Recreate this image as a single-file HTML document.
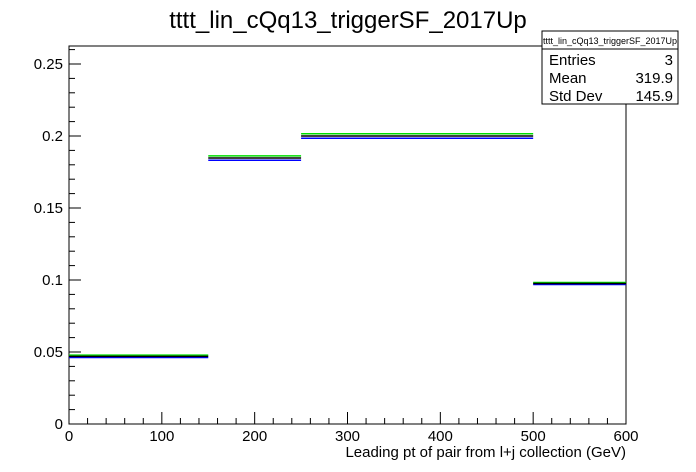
<!DOCTYPE html>
<html><head><meta charset="utf-8"><style>
body{margin:0;background:#fff;}
svg{display:block;font-family:"Liberation Sans",Arial,sans-serif;}
</style></head><body>
<svg id="c" width="696" height="472" viewBox="0 0 696 472">
<rect width="696" height="472" fill="#fff"/>
<text x="348" y="28" text-anchor="middle" font-size="24">tttt_lin_cQq13_triggerSF_2017Up</text>
<rect x="69" y="46" width="557" height="378" fill="none" stroke="#000" stroke-width="1"/>
<g id="axes"></g>
<g id="marks"></g>
<text x="626" y="457" text-anchor="end" font-size="15">Leading pt of pair from l+j collection (GeV)</text>
<g>
<rect x="542" y="31" width="136" height="73" fill="#fff" stroke="#000"/>
<line x1="542" y1="49" x2="678" y2="49" stroke="#000"/>
<text x="610" y="44" text-anchor="middle" font-size="9">tttt_lin_cQq13_triggerSF_2017Up</text>
<text x="549" y="65" font-size="15">Entries</text><text x="673" y="65" text-anchor="end" font-size="15">3</text>
<text x="549" y="83" font-size="15">Mean</text><text x="673" y="83" text-anchor="end" font-size="15">319.9</text>
<text x="549" y="101" font-size="15">Std Dev</text><text x="673" y="101" text-anchor="end" font-size="15">145.9</text>
</g>
</svg>
<script>
const binEdges=[0,150,250,500,600];
const nominal=[0.047,0.1847,0.2,0.0976];
const upVar=[0.0478,0.1862,0.2016,0.0983];
const downVar=[0.0462,0.1832,0.1984,0.0969];
const xTicks=[0,100,200,300,400,500,600];
const yTicks=[0,0.05,0.1,0.15,0.2,0.25];
const yTickLabels=["0","0.05","0.1","0.15","0.2","0.25"];
const NS="http://www.w3.org/2000/svg";
const X0=69,X1=626,Y0=424,Y1=46;
const xs=v=>X0+(v-0)/600*(X1-X0);
const ys=v=>Y0-v/0.2625*(Y0-Y1);
function mk(tag,at,parent){const e=document.createElementNS(NS,tag);for(const k in at)e.setAttribute(k,at[k]);parent.appendChild(e);return e;}
const ax=document.getElementById('axes');
for(let v=0;v<=600.001;v+=20){
  const major=Math.abs(v%100)<1e-6;
  const t=mk('line',{x1:xs(v),x2:xs(v),y1:Y0,y2:Y0-(major?12:6),stroke:'#000'},ax);
  
  
}
xTicks.forEach(v=>{const t=mk('text',{x:xs(v),y:Y0+17,'text-anchor':'middle','font-size':15},ax);t.textContent=v;
  
  });
for(let i=0;i<=26;i++){const v=i*0.01;
  const major=i%5===0;
  const t=mk('line',{x1:X0,x2:X0+(major?12:6),y1:ys(v),y2:ys(v),stroke:'#000'},ax);
  
  
}
yTicks.forEach((v,i)=>{const t=mk('text',{x:X0-6,y:ys(v)+5,'text-anchor':'end','font-size':15},ax);t.textContent=yTickLabels[i];
  
  });
const mg=document.getElementById('marks');
function series(vals,color,name){
  vals.forEach((v,i)=>{
    const l=mk('line',{x1:xs(binEdges[i]),x2:xs(binEdges[i+1]),y1:ys(v),y2:ys(v),stroke:color,'stroke-width':1.5},mg);
    
    
  });
}
series(upVar,'#00dd00','up-variation');
series(downVar,'#0000ff','down-variation');
series(nominal,'#000000','nominal');
</script>
</body></html>
